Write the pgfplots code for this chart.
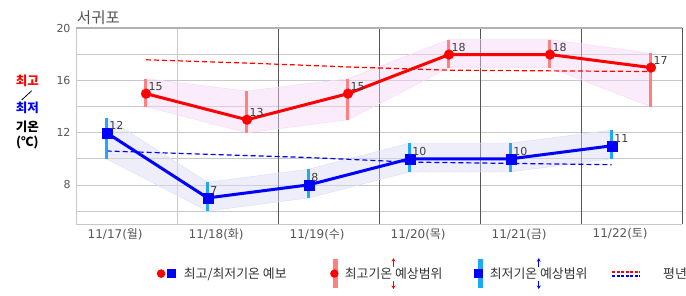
\documentclass[border=0pt]{standalone}
\usepackage{fontspec}
\setmainfont{Noto Sans CJK KR}
\newfontfamily\kr{Noto Sans CJK KR}
\newfontfamily\numfont{DejaVu Sans}
\usepackage{pgfplots}
\pgfplotsset{compat=1.18}
\usepackage{pgfplotstable}
\usepgfplotslibrary{fillbetween}
\usetikzlibrary{arrows.meta}

\definecolor{maxbar}{RGB}{255,128,128}
\definecolor{minbar}{RGB}{30,170,240}
\definecolor{pinkband}{RGB}{246,212,246}
\definecolor{pinkedge}{RGB}{248,222,248}
\definecolor{blueband}{RGB}{218,218,246}
\definecolor{blueedge}{RGB}{226,226,248}
\definecolor{gridlight}{RGB}{200,200,200}
\definecolor{griddark}{RGB}{85,85,85}
\definecolor{txtgray}{RGB}{85,85,85}
\definecolor{lbl}{RGB}{60,60,60}

\pgfplotstableread{
x y lo hi ep em
0.69 15 14 16.15 1.15 1
1.69 13 12 15.2 2.2 1
2.69 15 13 16.15 1.15 2
3.69 18 17 19.15 1.15 1
4.69 18 17 19.15 1.15 1
5.69 17 14 18.1 1.1 3
}\maxtab
\pgfplotstableread{
x y lo hi ep em
0.30 12 10 13.15 1.15 2
1.30 7 6 8.2 1.2 1
2.30 8 7 9.2 1.2 1
3.30 10 9 11.2 1.2 1
4.30 10 9 11.2 1.2 1
5.30 11 10 12.2 1.2 1
}\mintab
\pgfplotstableread{
x y
0.69 17.6
1.69 17.35
2.69 17.05
3.69 16.8
4.69 16.75
5.69 16.7
}\maxnorm
\pgfplotstableread{
x y
0.30 10.6
1.30 10.35
2.30 10.1
3.30 9.75
4.30 9.65
5.30 9.55
}\minnorm

\begin{document}
\begin{tikzpicture}
\begin{axis}[
  at={(0,0)}, anchor=south west,
  scale only axis, width=606pt, height=195.5pt,
  xmin=0, xmax=6, ymin=5, ymax=20,
  /pgf/number format/assume math mode=true,
  xtick={0.385,1.385,2.385,3.385,4.385,5.385},
  xticklabels={11/17({\kr 월}),11/18({\kr 화}),11/19({\kr 수}),11/20({\kr 목}),11/21({\kr 금}),11/22({\kr 토})},
  ytick={5,6,8,10,12,14,16,18,20},
  yticklabels={,,8,,12,,16,,20},
  ymajorgrids, major grid style={gridlight, line width=0.8pt},
  minor xtick={0,1}, xminorgrids, minor grid style={gridlight, line width=0.8pt},
  extra x ticks={2,3,4,5,6}, extra x tick labels={},
  extra x tick style={grid=major, major grid style={griddark, line width=0.9pt}},
  extra y ticks={20}, extra y tick labels={},
  extra y tick style={grid=major, major grid style={gray!60, line width=2pt}},
  major tick length=0pt, minor tick length=0pt,
  axis line style={draw=none},
  tick label style={font=\numfont\fontsize{11}{13}\selectfont, text=txtgray},
  yticklabel style={inner sep=0pt, xshift=-5.6pt},
  xticklabel style={inner sep=0pt, anchor=north, yshift=-4.5pt, font=\numfont\fontsize{12}{14}\selectfont},
  legend columns=4, legend cell align=left,
  legend style={at={(axis description cs:0.1328,-0.2537)}, anchor=west,
    draw=none, fill=none, inner sep=0pt, outer sep=0pt,
    column sep=0pt, row sep=0pt,
    nodes={inner sep=0pt, outer sep=0pt},
    font=\fontsize{12.9}{14}\selectfont, text=black!80},
]
% legend images
\addlegendimage{legend image code/.code={
  \path[draw=none, fill=none] (-4.2pt,-15pt) rectangle (22.7pt,15pt);
  \path[draw=none, fill=red] (0,0) circle (4.3pt);
  \path[draw=none, fill=blue] (6.4pt,-4.35pt) rectangle (15pt,4.35pt);
}}
\addlegendentry{\makebox[146.4pt][l]{최고/최저기온 예보}}
\addlegendimage{legend image code/.code={
  \path[draw=none, fill=none] (-4.2pt,-15pt) rectangle (9.7pt,15pt);
  \path[draw=none, fill=maxbar] (-2.5pt,-14.9pt) rectangle (2.5pt,14.9pt);
  \path[draw=none, fill=red] (-0.7pt,0pt) circle (4.2pt);
  \draw[overlay, draw=red, fill=none, line width=1.2pt, -{Stealth[length=3.5pt,width=4pt]}] (58.4pt,6.8pt) -- (58.4pt,15.4pt);
  \draw[overlay, draw=red, fill=none, line width=1.2pt, -{Stealth[length=3.5pt,width=4pt]}] (58.4pt,-7.2pt) -- (58.4pt,-15.4pt);
}}
\addlegendentry{\makebox[129.6pt][l]{최고기온 예상범위}}
\addlegendimage{legend image code/.code={
  \path[draw=none, fill=none] (-5.9pt,-15pt) rectangle (9.5pt,15pt);
  \path[draw=none, fill=minbar] (-2.5pt,-14.9pt) rectangle (2.5pt,14.9pt);
  \path[draw=none, fill=blue] (-5.9pt,-4.35pt) rectangle (2.8pt,4.35pt);
  \draw[overlay, draw=blue, fill=none, line width=1.2pt, -{Stealth[length=3.5pt,width=4pt]}] (58.5pt,6.8pt) -- (58.5pt,15.4pt);
  \draw[overlay, draw=blue, fill=none, line width=1.2pt, -{Stealth[length=3.5pt,width=4pt]}] (58.5pt,-7.2pt) -- (58.5pt,-15.4pt);
}}
\addlegendentry{\makebox[121.8pt][l]{최저기온 예상범위}}
\addlegendimage{legend image code/.code={
  \path[draw=none, fill=none] (0pt,-15pt) rectangle (50.7pt,15pt);
  \draw[draw=red, fill=none, line width=1.8pt, dash pattern=on 2.8pt off 1.7pt] (0pt,1.9pt) -- (28pt,1.9pt);
  \draw[draw=blue, fill=none, line width=1.8pt, dash pattern=on 2.8pt off 1.7pt] (0pt,-2.4pt) -- (28pt,-2.4pt);
}}
\addlegendentry{평년}

% bands
\addplot[name path=mxh, draw=pinkedge, line width=0.6pt, forget plot] table[x=x,y=hi]{\maxtab};
\addplot[name path=mxl, draw=pinkedge, line width=0.6pt, forget plot] table[x=x,y=lo]{\maxtab};
\addplot[fill=pinkband, fill opacity=0.45, draw=none, forget plot] fill between[of=mxh and mxl];
\addplot[name path=mnh, draw=blueedge, line width=0.6pt, forget plot] table[x=x,y=hi]{\mintab};
\addplot[name path=mnl, draw=blueedge, line width=0.6pt, forget plot] table[x=x,y=lo]{\mintab};
\addplot[fill=blueband, fill opacity=0.45, draw=none, forget plot] fill between[of=mnh and mnl];

% normals
\addplot[red, line width=1.2pt, dash pattern=on 5pt off 3pt, forget plot] table[x=x,y=y]{\maxnorm};
\addplot[blue, line width=1.2pt, dash pattern=on 5pt off 3pt, forget plot] table[x=x,y=y]{\minnorm};

% range bars
\addplot[only marks, mark=none, forget plot,
  error bars/.cd, y dir=both, y explicit, error mark=none,
  error bar style={maxbar, line width=3pt}]
  table[x=x, y=y, y error plus=ep, y error minus=em]{\maxtab};
\addplot[only marks, mark=none, forget plot,
  error bars/.cd, y dir=both, y explicit, error mark=none,
  error bar style={minbar, line width=3pt}]
  table[x=x, y=y, y error plus=ep, y error minus=em]{\mintab};

% forecast lines
\addplot[red, line width=3pt, mark=*, mark size=5pt, mark options={line width=0.1pt, fill=red},
  nodes near coords,
  every node near coord/.append style={font=\numfont\fontsize{11}{13}\selectfont, text=lbl, anchor=base west, inner sep=0pt, xshift=2.7pt, yshift=3.3pt},
  forget plot] table[x=x,y=y]{\maxtab};
\addplot[blue, line width=3pt, mark=square*, mark size=5pt, mark options={line width=0.1pt, fill=blue},
  nodes near coords,
  every node near coord/.append style={font=\numfont\fontsize{11}{13}\selectfont, text=lbl, anchor=base west, inner sep=0pt, xshift=2.7pt, yshift=3.3pt},
  forget plot] table[x=x,y=y]{\mintab};
\end{axis}

% title and y label
\node[anchor=base west, inner sep=0pt, text=txtgray, font=\fontsize{15.5}{17}\selectfont] at (0.5pt,200.5pt) {서귀포};
\begin{scope}[every node/.style={inner sep=0pt, font=\bfseries\fontsize{12.5}{14}\selectfont}]
\node[text=red] at (-48.8pt,143pt) {최고};
\draw[black, line width=0.8pt] (-54.6pt,124pt) -- (-44.6pt,133.3pt);
\node[text=blue] at (-48.8pt,116pt) {최저};
\node[text=black] at (-48.8pt,97pt) {기온};
\node[text=black] at (-48.8pt,81pt) {(℃)};
\end{scope}
\pgfresetboundingbox
\useasboundingbox (-76.3pt,-71pt) rectangle (609.7pt,224pt);
\end{tikzpicture}
\end{document}
